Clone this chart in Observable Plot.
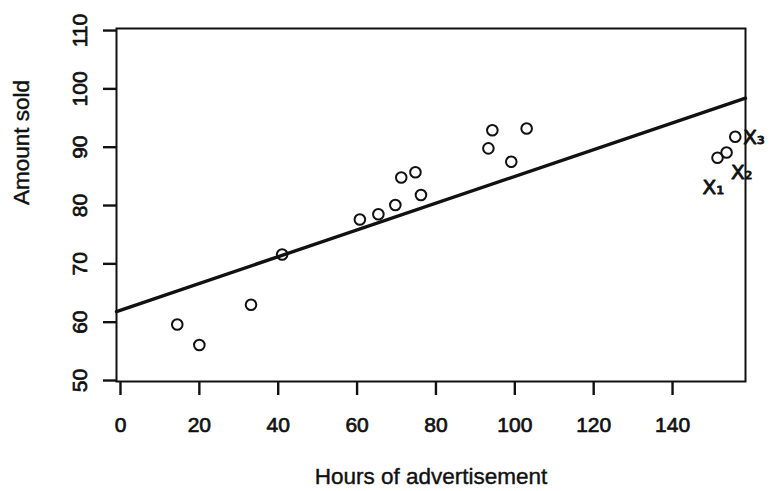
<!DOCTYPE html>
<html>
<head>
<meta charset="utf-8">
<script src="https://cdn.jsdelivr.net/npm/d3@7"></script>
<script src="https://cdn.jsdelivr.net/npm/@observablehq/plot@0.6"></script>
<style>
  html, body { margin: 0; padding: 0; background: #fff; }
  #chart svg { display: block; }
</style>
</head>
<body>
<div id="chart"></div>
<script>
// Data
const hours = [14.4, 20.0, 33.1, 41.0, 60.7, 65.4, 69.7, 71.2, 74.8, 76.2, 93.3, 94.3, 99.1, 103.0, 151.4, 153.7, 155.9];
const sold  = [59.6, 56.1, 63.0, 71.6, 77.6, 78.5, 80.1, 84.8, 85.7, 81.8, 89.8, 92.9, 87.5, 93.2, 88.2, 89.1, 91.8];
const fitIntercept = 62.06;
const fitSlope = 0.2293;
const xTicks = [0, 20, 40, 60, 80, 100, 120, 140];
const yTicks = [50, 60, 70, 80, 90, 100, 110];
const noteLabels = ["X\u2081", "X\u2082", "X\u2083"];
const noteHours = [147.6, 154.8, 157.9];
const noteSold  = [83.1, 85.6, 91.7];

const xDomain = [-1.01, 158.5];
const yDomain = [49.83, 110.35];

const points = hours.map((h, i) => ({h, s: sold[i]}));
const fitLine = xDomain.map(h => ({h, s: fitIntercept + fitSlope * h}));
const notes = noteLabels.map((t, i) => ({t, h: noteHours[i], s: noteSold[i]}));

const font = "'Liberation Sans', Arial, Helvetica, sans-serif";
const ink = "#111";

const chart = Plot.plot({
  width: 770,
  height: 491,
  marginLeft: 116,
  marginRight: 25,
  marginTop: 28,
  marginBottom: 110,
  style: {fontFamily: font, background: "#fff", color: ink},
  x: {domain: xDomain, axis: null},
  y: {domain: yDomain, axis: null},
  marks: [
    Plot.frame({stroke: ink, strokeWidth: 2}),
    Plot.axisX(xTicks, {anchor: "bottom", label: null, tickSize: 14, strokeWidth: 2.4, stroke: ink, tickFormat: () => ""}),
    Plot.axisY(yTicks, {anchor: "left", label: null, tickSize: 13, strokeWidth: 2.4, stroke: ink, tickFormat: () => ""}),
    Plot.text(xTicks, {x: d => d, frameAnchor: "bottom", dy: 44, text: d => String(d), fontSize: 21, lineAnchor: "middle", fill: ink, stroke: ink, strokeWidth: 0.7}),
    Plot.text(yTicks, {y: d => d, frameAnchor: "left", dx: -36, text: d => String(d), fontSize: 21, rotate: -90, lineAnchor: "middle", textAnchor: "middle", fill: ink, stroke: ink, strokeWidth: 0.7}),
    Plot.text(["Hours of advertisement"], {frameAnchor: "bottom", dy: 95, text: d => d, fontSize: 22.5, lineAnchor: "middle", fill: ink, stroke: ink, strokeWidth: 0.4}),
    Plot.text(["Amount sold"], {frameAnchor: "left", dx: -95, text: d => d, fontSize: 22.5, rotate: -90, lineAnchor: "middle", fill: ink, stroke: ink, strokeWidth: 0.4}),
    Plot.line(fitLine, {x: "h", y: "s", stroke: ink, strokeWidth: 3.4}),
    Plot.dot(points, {x: "h", y: "s", r: 5.3, stroke: ink, strokeWidth: 2, fill: "none"}),
    Plot.text(notes, {x: "h", y: "s", text: "t", fontSize: 20, fontFamily: "'DejaVu Sans', sans-serif", fill: ink, stroke: ink, strokeWidth: 0.9, lineAnchor: "middle", textAnchor: "start"})
  ]
});
document.getElementById("chart").appendChild(chart);
</script>
</body>
</html>
